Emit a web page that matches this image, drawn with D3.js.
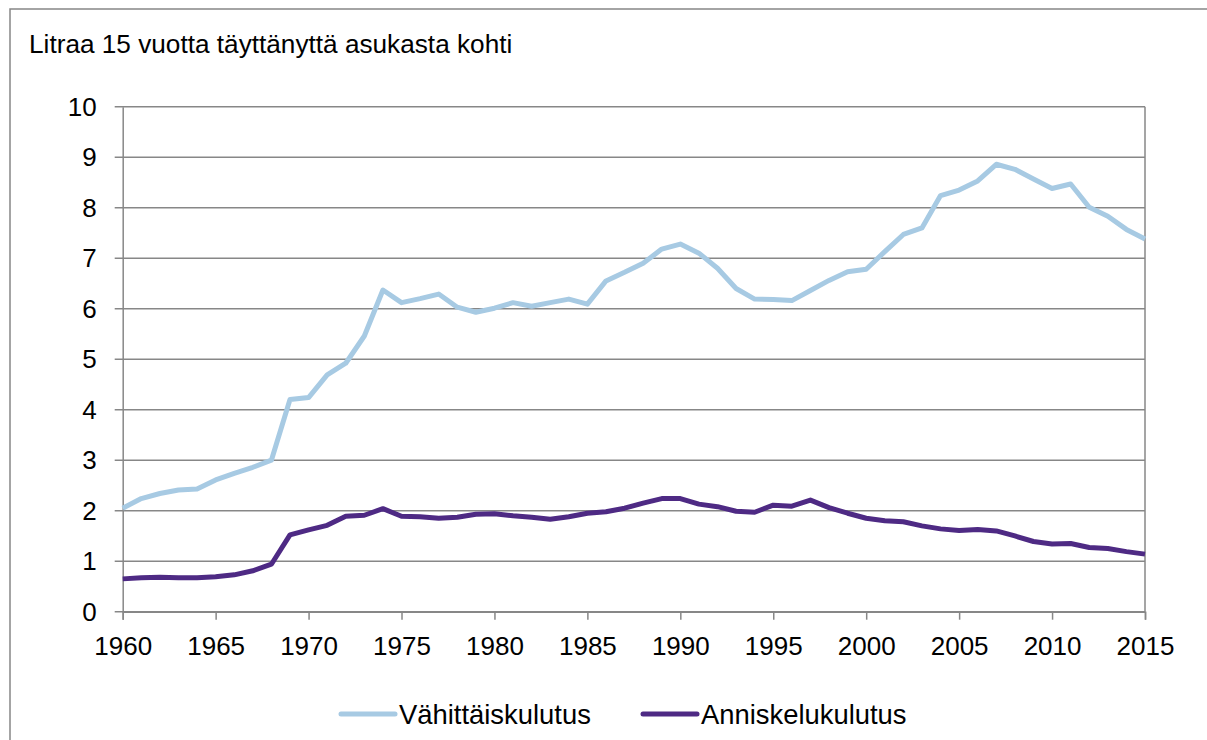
<!DOCTYPE html>
<html>
<head>
<meta charset="utf-8">
<script src="https://cdn.jsdelivr.net/npm/d3@7"></script>
<style>
  body { margin: 0; background: #fff; overflow: hidden; }
  svg { display: block; font-family: "Liberation Sans", Arial, sans-serif; }
</style>
</head>
<body>
<svg id="chart"></svg>
<script>
const years = d3.range(1960, 2016);

const vahittais = [
  2.05, 2.24, 2.34, 2.41, 2.43, 2.61, 2.74, 2.86, 3.00, 4.20,
  4.24, 4.69, 4.92, 5.46, 6.37, 6.12, 6.20, 6.29, 6.03, 5.93,
  6.01, 6.12, 6.05, 6.12, 6.19, 6.09, 6.55, 6.72, 6.90, 7.18,
  7.28, 7.10, 6.80, 6.40, 6.19, 6.18, 6.16, 6.36, 6.56, 6.73,
  6.78, 7.13, 7.47, 7.60, 8.24, 8.35, 8.53, 8.86, 8.76, 8.57,
  8.38, 8.47, 8.01, 7.83, 7.57, 7.38
];

const anniskelu = [
  0.65, 0.67, 0.68, 0.67, 0.67, 0.69, 0.73, 0.81, 0.94, 1.52,
  1.62, 1.71, 1.89, 1.91, 2.04, 1.89, 1.88, 1.85, 1.87, 1.93,
  1.94, 1.90, 1.87, 1.83, 1.88, 1.95, 1.98, 2.05, 2.15, 2.24,
  2.24, 2.13, 2.08, 1.99, 1.97, 2.11, 2.09, 2.21, 2.06, 1.95,
  1.85, 1.80, 1.78, 1.70, 1.64, 1.61, 1.63, 1.60, 1.50, 1.39,
  1.34, 1.35, 1.27, 1.25, 1.19, 1.14
];

const seriesNames = ["Vähittäiskulutus", "Anniskelukulutus"];
const seriesColors = ["#a7cae3", "#4e2a84"];
const yTicks = d3.range(0, 11);
const xTicks = d3.range(1960, 2016, 5);
const title = "Litraa 15 vuotta täyttänyttä asukasta kohti";

const W = 1207, H = 740;
const plotLeft = 122.7, plotRight = 1145, plotTop = 106.7, plotBottom = 611.7;
const grey = "#878787";

const svg = d3.select("#chart").attr("width", W).attr("height", H);

// outer frame (runs off the right and bottom edge)
svg.append("rect")
  .attr("x", 10).attr("y", 9)
  .attr("width", 1220).attr("height", 760)
  .attr("fill", "#fff")
  .attr("stroke", grey)
  .attr("stroke-width", 1.5);

svg.append("text")
  .attr("x", 29).attr("y", 53)
  .attr("font-size", 26.2)
  .attr("fill", "#000")
  .text(title);

const x = d3.scaleLinear().domain([1960, 2015]).range([plotLeft, plotRight]);
const y = d3.scaleLinear().domain([0, 10]).range([plotBottom, plotTop]);

// gridlines
svg.append("g")
  .selectAll("line")
  .data(yTicks)
  .enter()
  .append("line")
  .attr("x1", plotLeft - 8)
  .attr("x2", plotRight)
  .attr("y1", d => y(d))
  .attr("y2", d => y(d))
  .attr("stroke", grey)
  .attr("stroke-width", 1.5);

// right border of plot
svg.append("line")
  .attr("x1", plotRight).attr("x2", plotRight)
  .attr("y1", plotTop).attr("y2", plotBottom)
  .attr("stroke", grey).attr("stroke-width", 1.5);

// y axis
const yAxis = svg.append("g")
  .attr("transform", `translate(${plotLeft},0)`)
  .call(d3.axisLeft(y).tickValues(yTicks).tickSize(0).tickPadding(26));
yAxis.select(".domain").attr("stroke", grey).attr("stroke-width", 1.5);
yAxis.selectAll("text").attr("font-size", 26).attr("fill", "#000")
  .attr("font-family", "Liberation Sans, Arial, sans-serif");

// x axis
const xAxis = svg.append("g")
  .attr("transform", `translate(0,${plotBottom})`)
  .call(d3.axisBottom(x).tickValues(xTicks).tickFormat(d3.format("d")).tickSize(8).tickPadding(17));
xAxis.select(".domain").attr("stroke", grey).attr("stroke-width", 1.5);
xAxis.selectAll(".tick line").attr("stroke", grey).attr("stroke-width", 1.5);
xAxis.selectAll("text").attr("font-size", 26).attr("fill", "#000")
  .attr("font-family", "Liberation Sans, Arial, sans-serif");

// lines
const line = d3.line()
  .x((d, i) => x(years[i]))
  .y(d => y(d));

[vahittais, anniskelu].forEach((vals, i) => {
  svg.append("path")
    .datum(vals)
    .attr("d", line)
    .attr("fill", "none")
    .attr("stroke", seriesColors[i])
    .attr("stroke-width", 5)
    .attr("stroke-linejoin", "round");
});

// legend
const legendX = [341, 643];
const legend = svg.append("g").attr("class", "legend");
seriesNames.forEach((name, i) => {
  legend.append("line")
    .attr("x1", legendX[i]).attr("x2", legendX[i] + 54)
    .attr("y1", 714).attr("y2", 714)
    .attr("stroke", seriesColors[i])
    .attr("stroke-width", 5)
    .attr("stroke-linecap", "round");
  legend.append("text")
    .attr("x", legendX[i] + 58).attr("y", 724)
    .attr("font-size", 27.4)
    .attr("fill", "#000")
    .text(name);
});
</script>
</body>
</html>
